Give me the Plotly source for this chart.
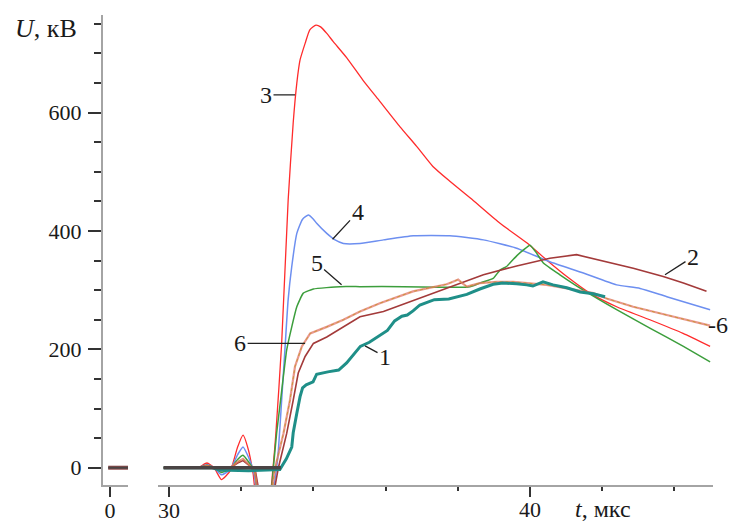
import plotly.graph_objects as go

# ---- data (t in microseconds, U in kV) ----
t_red = [29.85, 30.8, 31.05, 31.25, 31.45, 31.7, 31.9, 32.05, 32.2, 32.33, 32.45, 32.75, 32.88, 32.96, 33.12, 33.30,
         33.44, 33.54, 33.63, 33.77, 33.9, 34.07, 34.2, 34.37, 34.55, 34.92, 35.37, 35.84, 36.40, 36.86, 37.31,
         37.78, 38.42, 39.17, 39.91, 40.46, 41.02, 41.66, 42.40, 43.32, 44.24, 44.99]
u_red = [0, 0, 8, 0, -20, -5, 35, 55, 30, -10, -60, -60, 0, 58, 210, 452,
         583, 650, 689, 717, 740, 748, 745, 734, 720, 693, 655, 619, 576, 543, 509,
         484, 452, 413, 380, 351, 323, 295, 272, 250, 227, 205]

t_blue = [29.85, 30.8, 31.05, 31.25, 31.45, 31.7, 31.9, 32.05, 32.2, 32.35, 32.5, 32.8, 32.98, 33.03, 33.12, 33.21,
          33.30, 33.40, 33.54, 33.7, 33.86, 34.0, 34.09, 34.37, 34.60, 34.83, 35.29, 35.94, 36.77, 37.78, 38.71,
          39.63, 40.55, 41.48, 42.40, 43.05, 43.79, 44.99]
u_blue = [0, 0, 5, 0, -12, -3, 22, 35, 18, -8, -60, -60, 0, 30, 114, 199,
          284, 340, 396, 420, 427, 420, 413, 396, 385, 379, 379, 385, 392, 392, 385,
          371, 348, 329, 309, 303, 289, 267]

t_green = [29.85, 30.8, 31.05, 31.25, 31.45, 31.7, 31.9, 32.05, 32.2, 32.38, 32.5, 32.78, 32.89, 32.98, 33.09, 33.26,
           33.40, 33.54, 33.72, 34.00, 34.74, 35.29, 36.5, 37.5, 38.25, 38.45, 38.61, 38.98, 39.17, 39.35, 39.63,
           39.82, 40.0, 40.19, 40.37, 40.83, 41.48, 42.40, 43.32, 44.25, 44.99]
u_green = [0, 0, 4, 0, -8, -2, 14, 21, 10, -8, -60, -60, 0, 58, 114, 199,
           238, 272, 295, 302, 306, 306, 306, 305, 305, 308, 312, 320, 334, 340, 358,
           368, 376, 362, 346, 326, 300, 267, 236, 205, 179]

t_maroon = [29.85, 30.8, 31.05, 31.25, 31.45, 31.7, 31.9, 32.05, 32.2, 32.4, 32.55, 32.85, 33.03, 33.26, 33.44, 33.58,
            33.77, 34.00, 34.37, 34.83, 35.29, 35.94, 36.86, 37.78, 38.71, 39.63, 40.55, 41.29, 41.94, 42.86,
            43.69, 44.25, 44.89]
u_maroon = [0, 0, 3, 0, -5, 0, 8, 12, 5, -8, -60, -60, 0, 58, 114, 160,
            188, 210, 221, 238, 255, 264, 285, 306, 326, 341, 354, 360, 351, 337,
            323, 312, 298]

t_orange = [29.85, 30.8, 31.05, 31.25, 31.45, 31.7, 31.9, 32.05, 32.2, 32.38, 32.5, 32.8, 32.94, 33.17, 33.35, 33.49,
            33.68, 33.91, 34.37, 34.83, 35.29, 35.84, 36.76, 37.42, 37.69, 37.85, 38.01, 38.12, 38.25, 38.61,
            39.08, 39.54, 40.00, 40.46, 41.02, 41.76, 42.12, 42.86, 43.79, 44.99]
u_orange = [0, 0, 3, 0, -5, 0, 10, 15, 6, -8, -60, -60, 0, 58, 114, 171,
            205, 227, 238, 250, 264, 278, 298, 307, 310, 314, 318, 312, 306, 312,
            314, 314, 312, 309, 303, 295, 286, 272, 258, 240]

t_teal = [29.85, 31.2, 31.4, 32.2, 33.07, 33.25, 33.40, 33.44, 33.54, 33.63, 33.70, 33.80, 33.99, 34.09, 34.40,
          34.70, 34.92, 35.10, 35.30, 35.55, 35.80, 36.05, 36.25, 36.45, 36.60, 36.76, 36.95, 37.15, 37.35,
          37.75, 37.97, 38.25, 38.61, 38.98, 39.25, 39.63, 39.91, 40.08, 40.36, 40.64, 41.02, 41.39, 41.75, 42.08]
u_teal = [0, 0, -4, -5, -3, 15, 35, 59, 92, 120, 135, 140, 145, 158, 162,
          165, 177, 190, 205, 212, 222, 232, 248, 256, 258, 265, 275, 279, 284,
          285, 288, 293, 302, 310, 312, 311, 309, 307, 314, 309, 304, 297, 294, 289]

t_base_a = [-0.05, 0.5]
u_base_a = [0, 0]
t_base_b = [29.85, 33.1]
u_base_b = [0, 0]

y_ticks_major = [0, 200, 400, 600]
y_ticks_mid = [100, 300, 500, 700]

SERIF = "Liberation Serif, Times New Roman, serif"
TXT = "#1a1a1a"

fig = go.Figure()

def add(x, y, color, width, xa="x2", dash=None, smooth=None):
    line = dict(color=color, width=width, dash=dash)
    if smooth:
        line.update(shape="spline", smoothing=smooth)
    fig.add_trace(go.Scatter(x=x, y=y, mode="lines", xaxis=xa, yaxis="y",
                             line=line, showlegend=False, hoverinfo="skip"))

add(t_red, u_red, "#ff2b2b", 1.3, smooth=0.5)
add(t_blue, u_blue, "#6d8ff0", 1.5, smooth=0.5)
add(t_green, u_green, "#3c9e3c", 1.5, smooth=0.4)
add(t_maroon, u_maroon, "#a33a3a", 1.6)
add(t_orange, u_orange, "rgba(226,118,104,0.75)", 2.2)
add(t_orange, u_orange, "#c8942e", 0.9, dash="dot")
add(t_teal, u_teal, "#1f8f88", 3.0)
add(t_base_b, u_base_b, "#4a4444", 3.5)
add(t_base_a, u_base_a, "#8a4a4a", 4.0, xa="x")
add(t_base_a, u_base_a, "#4a4444", 2.0, xa="x")

axis_line = dict(showline=True, linecolor="#a4a4a4", linewidth=2, showgrid=False, zeroline=False,
                 automargin=False)

# page body has an 8px margin: figure is shrunk/offset by 8px to compensate
fig.update_layout(
    width=729, height=515,
    margin=dict(l=95, r=24, t=7, b=38, autoexpand=False),
    paper_bgcolor="white", plot_bgcolor="white",
    font=dict(family=SERIF, size=22, color=TXT),
    xaxis=dict(domain=[0, 0.041], range=[-0.194, 0.5], anchor="y",
               tickvals=[0], ticktext=["0"], ticks="outside", ticklen=10, tickwidth=2,
               tickcolor="#333", ticklabelstandoff=-5, **axis_line),
    xaxis2=dict(domain=[0.0902, 1], range=[29.695, 45.07], anchor="y",
                tickvals=[30, 40], ticktext=["30", ""], ticks="outside", ticklen=10, tickwidth=2,
                tickcolor="#333", ticklabelstandoff=-5,
                minor=dict(dtick=2, tick0=30, ticks="outside", ticklen=4, tickwidth=2, tickcolor="#333"),
                **axis_line),
    yaxis=dict(range=[-29.2, 765], anchor="x", tickvals=y_ticks_major,
               ticks="outside", ticklen=13, tickwidth=2, tickcolor="#333",
               ticklabelstandoff=2,
               minor=dict(dtick=50, tick0=0, ticks="outside", ticklen=7, tickwidth=2, tickcolor="#333"),
               **axis_line),
    yaxis3=dict(range=[-29.2, 765], anchor="x", overlaying="y", side="left",
                tickvals=y_ticks_mid, ticks="outside", ticklen=10, tickwidth=2, tickcolor="#333",
                showticklabels=False, showline=False, showgrid=False, zeroline=False,
                automargin=False),
)

ann_font = dict(family=SERIF, size=24, color=TXT)
labels = [
    ("3", 33.49, 630, -29, 0),
    ("4", 34.53, 386, 25, -27),
    ("5", 34.78, 309, -25, -22),
    ("6", 33.77, 210, -65, 0),
    ("1", 35.43, 206, 20, 11),
    ("2", 43.74, 326, 28, -18),
]
for txt, x, y, ax, ay in labels:
    fig.add_annotation(text=txt, x=x, y=y, xref="x2", yref="y", ax=ax, ay=ay,
                       showarrow=True, arrowhead=0, arrowwidth=1.3, arrowcolor="#222",
                       font=ann_font)

fig.add_annotation(text="-6", xref="paper", yref="y", x=1.0278, xanchor="right", y=242,
                   showarrow=False, font=ann_font)
fig.add_annotation(text="40", xref="x2", yref="paper", x=40, y=-0.052, yanchor="middle",
                   xanchor="center", showarrow=False, font=dict(family=SERIF, size=22, color=TXT))
fig.add_annotation(text="<i>t</i>, мкс", xref="paper", yref="paper", x=0.7705, xanchor="left",
                   y=-0.052, yanchor="middle", showarrow=False,
                   font=dict(family=SERIF, size=24, color=TXT))
fig.add_annotation(text="<i>U</i>, кВ", xref="paper", yref="paper", x=-0.1475, xanchor="left",
                   y=0.972, yanchor="middle", showarrow=False,
                   font=dict(family=SERIF, size=26, color=TXT))

fig.write_html("out.html")
